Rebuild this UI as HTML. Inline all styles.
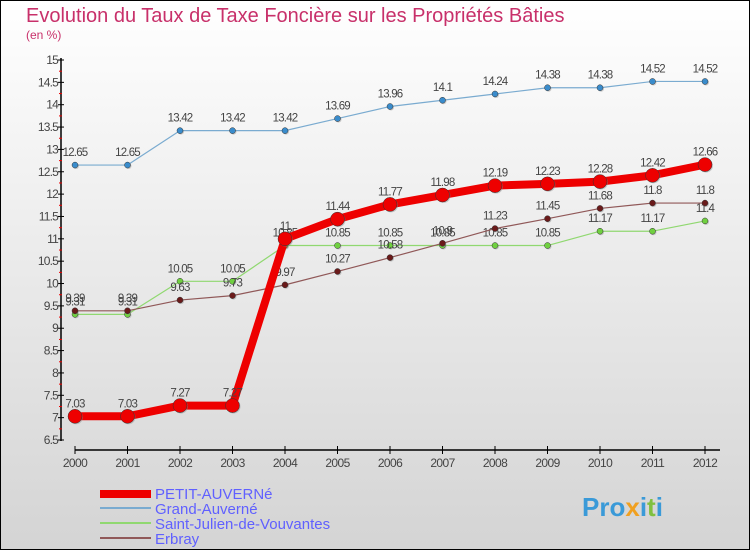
<!DOCTYPE html>
<html><head><meta charset="utf-8"><style>
body{margin:0;width:750px;height:550px;overflow:hidden;font-family:"Liberation Sans",sans-serif}
</style></head><body>
<svg id="c" width="750" height="550" xmlns="http://www.w3.org/2000/svg">
<defs><linearGradient id="bg" x1="0" y1="0" x2="0" y2="1"><stop offset="0" stop-color="#ffffff"/><stop offset="1" stop-color="#d4d4d4"/></linearGradient></defs>
<rect x="0.5" y="0.5" width="749" height="549" fill="url(#bg)" stroke="#000"/>
<text x="26" y="22" font-size="20" fill="#c8306a" font-weight="300">Evolution du Taux de Taxe Foncière sur les Propriétés Bâties</text>
<text x="26" y="39" font-size="12" fill="#c8306a">(en %)</text>
<g id="axes"></g><g id="series"></g>
<g>
<rect x="100" y="490" width="51" height="8" fill="#e00"/>
<text x="155" y="499" font-size="15" fill="#6060ff">PETIT-AUVERNé</text>
<rect x="100" y="507" width="51" height="2" fill="#7aabd0"/>
<text x="155" y="514" font-size="15" fill="#6060ff">Grand-Auverné</text>
<rect x="100" y="522" width="51" height="2" fill="#90d870"/>
<text x="155" y="529" font-size="15" fill="#6060ff">Saint-Julien-de-Vouvantes</text>
<rect x="100" y="537" width="51" height="2" fill="#905858"/>
<text x="155" y="544" font-size="15" fill="#6060ff">Erbray</text>
</g>
<text x="582" y="516" font-size="26" font-weight="bold" fill="#3a9ad8">Pro<tspan fill="#f0a020">x</tspan>i<tspan fill="#80c040">t</tspan>i</text>
</svg>
<script>
const years=["2000","2001","2002","2003","2004","2005","2006","2007","2008","2009","2010","2011","2012"];
const petit=[7.03,7.03,7.27,7.27,11,11.44,11.77,11.98,12.19,12.23,12.28,12.42,12.66];
const grand=[12.65,12.65,13.42,13.42,13.42,13.69,13.96,14.1,14.24,14.38,14.38,14.52,14.52];
const saint=[9.31,9.31,10.05,10.05,10.85,10.85,10.85,10.85,10.85,10.85,11.17,11.17,11.4];
const erbray=[9.39,9.39,9.63,9.73,9.97,10.27,10.58,10.9,11.23,11.45,11.68,11.8,11.8];
const yTicks=[6.5,7,7.5,8,8.5,9,9.5,10,10.5,11,11.5,12,12.5,13,13.5,14,14.5,15];
const NS="http://www.w3.org/2000/svg";
const X=i=>75+i*52.5, Y=v=>440-(v-6.5)*380/8.5;
function mk(p,t,a){const e=document.createElementNS(NS,t);for(const k in a)e.setAttribute(k,a[k]);p.appendChild(e);return e;}
const ax=document.getElementById('axes');
let l=mk(ax,'line',{x1:61,y1:58,x2:61,y2:441,stroke:'#000','stroke-width':1.5});


l=mk(ax,'line',{x1:75,y1:450,x2:720,y2:450,stroke:'#000','stroke-width':1.5});


yTicks.forEach(v=>{const y=Y(v);
 mk(ax,'line',{x1:58,y1:y,x2:64,y2:y,stroke:'#000'});
 mk(ax,'line',{x1:59,y1:y+11.2,x2:62,y2:y+11.2,stroke:v>6.5?'#e00':'none'});
 const t=mk(ax,'text',{x:58,y:y+4,'font-size':12,fill:'#444','text-anchor':'end','letter-spacing':'-0.8'});t.textContent=v;
 
 });
years.forEach((yr,i)=>{mk(ax,'line',{x1:X(i),y1:446,x2:X(i),y2:454,stroke:'#000'});
 const t=mk(ax,'text',{x:X(i),y:467,'font-size':12,fill:'#444','text-anchor':'middle','letter-spacing':'-0.6'});t.textContent=yr;
 
 });
const sg=document.getElementById('series');
function draw(name,data,color,w,r,dot){
 const g=mk(sg,'g',{});
 
 
 const pl=mk(g,'polyline',{points:data.map((v,i)=>X(i)+','+Y(v)).join(' '),fill:'none',stroke:color,'stroke-width':w,'stroke-linejoin':'round'});
 
 
 data.forEach((v,i)=>{
  mk(g,'circle',{cx:X(i)+1,cy:Y(v)+1,r:r,fill:'#888','fill-opacity':0.4});
  const c=mk(g,'circle',{cx:X(i),cy:Y(v),r:r,fill:dot,stroke:'#333','stroke-width':0.5});
  
  
  const t=mk(g,'text',{x:X(i),y:Y(v)-9,'font-size':11.5,fill:'#444','text-anchor':'middle','letter-spacing':'-0.8'});t.textContent=v;
  
  });
}
draw('grand-auverne',grand,'#7aabd0',1.2,3,'#3a8ccc');
draw('saint-julien',saint,'#90d870',1.2,3,'#70d040');
draw('erbray',erbray,'#905858',1.2,3,'#6a1a1a');
draw('petit-auverne',petit,'#ee0000',8,7,'#e00');
</script>
</body></html>
